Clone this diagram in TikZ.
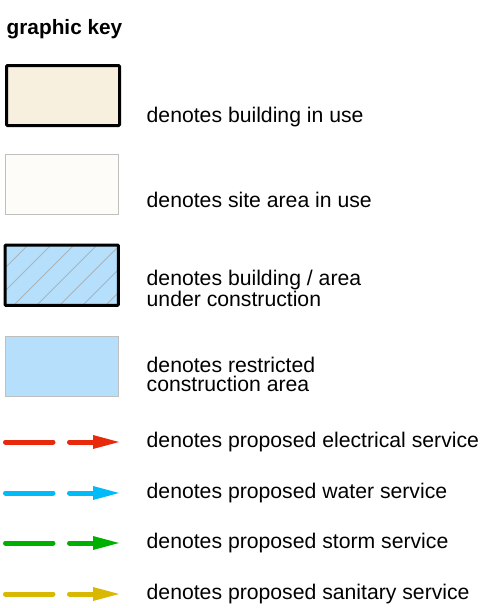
\documentclass[tikz,border=0pt]{standalone}
\usepackage{fontspec}
\setmainfont{Liberation Sans}
\usetikzlibrary{arrows.meta,patterns}
\definecolor{bldg}{HTML}{F7F0DF}
\definecolor{site}{HTML}{FDFCF8}
\definecolor{cons}{HTML}{B5DFFB}
\definecolor{elec}{HTML}{E8290B}
\definecolor{water}{HTML}{00BBF8}
\definecolor{storm}{HTML}{00B000}
\definecolor{sani}{HTML}{D8B800}
\definecolor{hatch}{HTML}{A8B4BC}
\begin{document}
\begin{tikzpicture}[x=1pt,y=-1pt,
  keytext/.style={anchor=base west,inner sep=0pt,font=\fontsize{21.2}{19.5}\selectfont,align=left},
  keybox/.style={minimum width=113pt,minimum height=60pt,inner sep=0pt,anchor=north west},
  svc/.style={line width=5pt,line cap=round}]
\useasboundingbox (0,0) rectangle (503,608);
\node[anchor=base west,inner sep=0pt,font=\fontsize{20.8}{22}\selectfont\bfseries] (title) at (6.5,34) {graphic key};
% boxes
\node[keybox,draw=black,line width=3pt,fill=bldg,rounded corners=1pt] (b1) at (5,64) {};
\node[keybox,draw=black!25,line width=1pt,fill=site] (b2) at (5,154) {};
\node[keybox,fill=cons] (b3) at (5,245) {};
\begin{scope}
\clip (b3.north west) rectangle (b3.south east);
\foreach \i in {-4,...,6} {
  \draw[hatch,line width=0.8pt] (14+23*\i,305) -- ++(70,-70);
}
\end{scope}
\draw[black,line width=3pt,rounded corners=1pt] (b3.north west) rectangle (b3.south east);
\node[keybox,draw=black!25,line width=1pt,fill=cons] (b4) at (5,336) {};
% texts (base anchor = baseline of last line)
\node[keytext] (t1) at (146.5,122.7) {denotes building in use};
\node[keytext] (t2) at (146.5,207.7) {denotes site area in use};
\node[keytext] (t3) at (146.5,306) {denotes building / area\\under construction};
\node[keytext] (t4) at (146.5,391.7) {denotes restricted\\construction area};
\node[keytext] (t5) at (146.5,447.7) {denotes proposed electrical service};
\node[keytext] (t6) at (146.5,498.2) {denotes proposed water service};
\node[keytext] (t7) at (146.5,548.5) {denotes proposed storm service};
\node[keytext] (t8) at (146.5,599) {denotes proposed sanitary service};
% service arrows
\foreach \y/\c in {442/elec,493/water,543/storm,594/sani} {
  \draw[svc,\c] (5.5,\y) -- (53,\y);
  \draw[svc,\c] (69.5,\y) -- (94,\y);
  \fill[\c] (93,\y-7) -- (119,\y) -- (93,\y+7) -- cycle;
}
\end{tikzpicture}
\end{document}
